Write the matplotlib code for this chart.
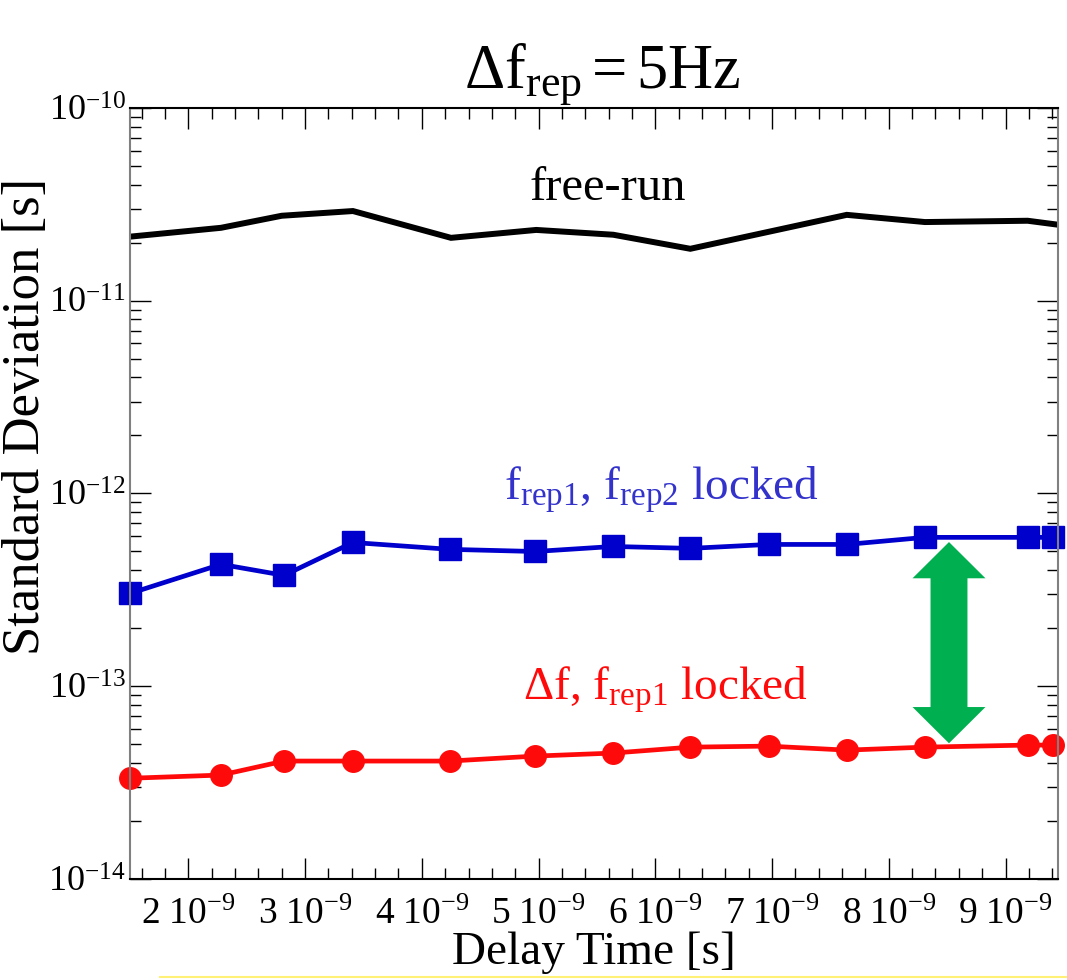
import matplotlib
matplotlib.use('Agg')
import matplotlib.pyplot as plt
from matplotlib.patches import Polygon
from matplotlib.lines import Line2D
from matplotlib.ticker import MultipleLocator, FuncFormatter, LogLocator, LogFormatterMathtext

plt.rcParams['font.family'] = ['Liberation Serif', 'DejaVu Serif']
plt.rcParams['mathtext.fontset'] = 'custom'
plt.rcParams['mathtext.rm'] = 'Liberation Serif'
plt.rcParams['mathtext.it'] = 'Liberation Serif:italic'
plt.rcParams['mathtext.bf'] = 'Liberation Serif:bold'

# delay times of the measurement points [s]
delay = [1.50e-9, 2.28e-9, 2.82e-9, 3.41e-9, 4.24e-9, 4.97e-9, 5.64e-9,
         6.30e-9, 6.97e-9, 7.64e-9, 8.31e-9, 9.19e-9, 9.41e-9]
# frep1, frep2 locked
std_frep_locked = [3.03e-13, 4.29e-13, 3.76e-13, 5.57e-13, 5.13e-13, 5.00e-13, 5.31e-13,
                   5.19e-13, 5.44e-13, 5.44e-13, 5.92e-13, 5.92e-13, 5.92e-13]
# delta f, frep1 locked
std_df_locked = [3.33e-14, 3.46e-14, 4.09e-14, 4.09e-14, 4.09e-14, 4.34e-14, 4.50e-14,
                 4.83e-14, 4.89e-14, 4.66e-14, 4.83e-14, 4.95e-14, 4.95e-14]
# free-run (line only)
delay_free = [1.50e-9, 2.28e-9, 2.80e-9, 3.41e-9, 4.25e-9, 4.98e-9, 5.64e-9,
              6.30e-9, 7.64e-9, 8.31e-9, 9.19e-9, 9.45e-9]
std_free = [2.15e-11, 2.39e-11, 2.76e-11, 2.92e-11, 2.12e-11, 2.33e-11, 2.20e-11,
            1.86e-11, 2.79e-11, 2.56e-11, 2.60e-11, 2.48e-11]

fig = plt.figure(figsize=(10.67, 9.8), dpi=100)
ax = fig.add_axes([0.1218, 0.1031, 0.8698, 0.7867])

ax.plot(delay_free, std_free, color='black', lw=4.3, solid_joinstyle='miter')
ax.plot(delay, std_frep_locked, color='#0000CC', lw=3.4, marker='s', ms=16, clip_on=False)
ax.plot(delay, std_df_locked, color='#FF0A0A', lw=3.4, marker='o', ms=15.5, clip_on=False)

ax.set_yscale('log')
ax.set_xlim(1.5e-9, 9.45e-9)
ax.set_ylim(1e-14, 1e-10)

ax.xaxis.set_major_locator(MultipleLocator(1e-9))
ax.xaxis.set_minor_locator(MultipleLocator(0.2e-9))
ax.xaxis.set_major_formatter(FuncFormatter(lambda v, p: r'$\mathdefault{%d\ 10^{-9}}$' % round(v * 1e9)))
ax.yaxis.set_major_locator(LogLocator(base=10))
ax.yaxis.set_minor_locator(LogLocator(base=10, subs=range(2, 10)))
ax.yaxis.set_major_formatter(LogFormatterMathtext())

ax.tick_params(which='both', direction='in', top=True, right=True, colors='black', width=1)
ax.tick_params(which='major', length=15)
ax.tick_params(which='minor', length=8)
ax.tick_params(axis='x', which='major', pad=13, labelsize=27)
ax.tick_params(axis='y', which='major', pad=3, labelsize=26)
for side in ['left', 'right']:
    ax.spines[side].set_color('#808080')
for side in ['top', 'bottom']:
    ax.spines[side].set_color('black')
for s in ax.spines.values():
    s.set_linewidth(1.5)

ax.set_xlabel('Delay Time [s]', fontsize=34)
ax.xaxis.set_label_coords(0.50, -0.068)
ax.set_ylabel('Standard Deviation [s]', fontsize=38)
ax.yaxis.set_label_coords(-0.086, 0.6)

fig.text(0.564, 1 - 87 / 980, r'$\Delta\mathrm{f}_{\mathrm{rep}}{=}\mathrm{5Hz}$',
         fontsize=45, ha='center', va='baseline')

ax.text(0.515, 0.896, 'free-run', transform=ax.transAxes, fontsize=35,
        ha='center', va='center', color='black')
ax.text(0.573, 0.505, r'$\mathrm{f}_{\mathrm{rep1}}$, $\mathrm{f}_{\mathrm{rep2}}$ locked',
        transform=ax.transAxes, fontsize=34, ha='center', va='center', color='#3333CC')
ax.text(0.577, 0.245, r'$\Delta\mathrm{f}$, $\mathrm{f}_{\mathrm{rep1}}$ locked',
        transform=ax.transAxes, fontsize=34, ha='center', va='center', color='#FF0A0A')

# green double-headed arrow between the locked curves
cx, top, tb, bb, bot = 0.8825, 0.437, 0.390, 0.223, 0.176
hw, sw = 0.0393, 0.0199
arrow = Polygon([(cx, top), (cx + hw, tb), (cx + sw, tb), (cx + sw, bb), (cx + hw, bb),
                 (cx, bot), (cx - hw, bb), (cx - sw, bb), (cx - sw, tb), (cx - hw, tb)],
                closed=True, transform=ax.transAxes, facecolor='#00B050', edgecolor='none', zorder=5)
ax.add_patch(arrow)

fig.add_artist(Line2D([160 / 1067, 1.0], [1 - 977 / 980] * 2, color='#FFF176', lw=1.5))

fig.savefig('out.png', dpi=100)
